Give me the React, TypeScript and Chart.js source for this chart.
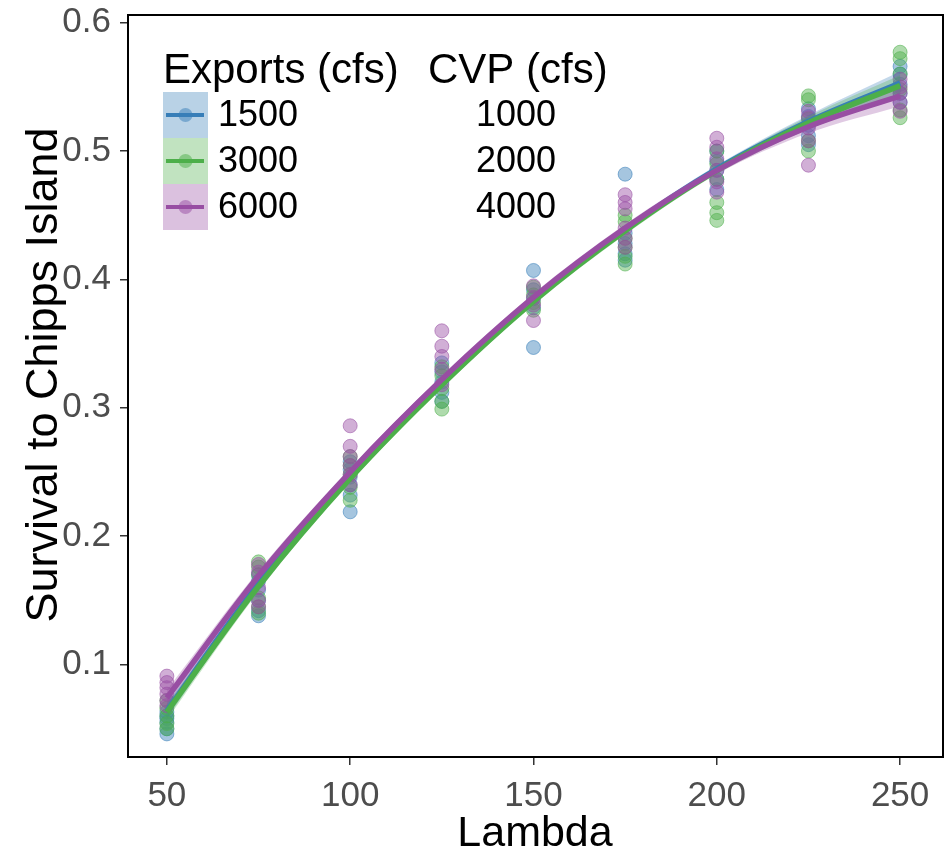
import React, { useEffect, useRef } from "react";
import { Chart, registerables } from "chart.js";

Chart.register(...registerables);

const LAMBDA = [50, 75, 100, 125, 150, 175, 200, 225, 250];
const EXPORTS = ["1500", "3000", "6000"];
const CVP = ["1000", "2000", "4000"];
const COLORS = ["#377EB8", "#4DAF4A", "#984EA3"];
const X_TICKS = [50, 100, 150, 200, 250];
const X_LABELS = ["50", "100", "150", "200", "250"];
const Y_TICKS = [0.1, 0.2, 0.3, 0.4, 0.5, 0.6];
const Y_LABELS = ["0.1", "0.2", "0.3", "0.4", "0.5", "0.6"];
const X_TITLE = "Lambda";
const Y_TITLE = "Survival to Chipps Island";

// fitted curves at each lambda
const blueFit = [0.064, 0.163, 0.246, 0.319, 0.384, 0.439, 0.486, 0.523, 0.553];
const greenFit = [0.063, 0.161, 0.245, 0.318, 0.383, 0.438, 0.485, 0.522, 0.551];
const purpleFit = [0.074, 0.169, 0.250, 0.322, 0.386, 0.440, 0.485, 0.519, 0.543];
// ribbon half widths
const blueSE = [0.006, 0.004, 0.003, 0.003, 0.003, 0.003, 0.003, 0.005, 0.009];
const greenSE = [0.006, 0.004, 0.003, 0.003, 0.003, 0.003, 0.003, 0.005, 0.008];
const purpleSE = [0.006, 0.004, 0.003, 0.003, 0.003, 0.003, 0.003, 0.005, 0.008];

// observed points per lambda
const bluePts = [
  [0.046, 0.050, 0.055, 0.058, 0.060, 0.063],
  [0.138, 0.142, 0.150, 0.158, 0.165, 0.170],
  [0.219, 0.232, 0.240, 0.246, 0.252, 0.258],
  [0.305, 0.312, 0.320, 0.328, 0.335],
  [0.347, 0.378, 0.385, 0.392, 0.407],
  [0.415, 0.420, 0.428, 0.436, 0.482],
  [0.470, 0.478, 0.485, 0.492, 0.500],
  [0.505, 0.512, 0.520, 0.527, 0.533],
  [0.538, 0.545, 0.552, 0.560, 0.566],
];
const greenPts = [
  [0.050, 0.054, 0.060, 0.066, 0.072],
  [0.140, 0.145, 0.152, 0.170, 0.176, 0.180],
  [0.228, 0.238, 0.248, 0.255, 0.262],
  [0.299, 0.305, 0.315, 0.325, 0.332],
  [0.376, 0.382, 0.388, 0.394],
  [0.412, 0.418, 0.425, 0.432, 0.445, 0.450],
  [0.446, 0.452, 0.460, 0.478, 0.490, 0.500],
  [0.500, 0.508, 0.525, 0.540, 0.543],
  [0.526, 0.532, 0.548, 0.560, 0.572, 0.577],
];
const purplePts = [
  [0.068, 0.072, 0.077, 0.082, 0.086, 0.091],
  [0.145, 0.150, 0.160, 0.172, 0.178],
  [0.240, 0.248, 0.255, 0.262, 0.270, 0.286],
  [0.318, 0.330, 0.340, 0.348, 0.360],
  [0.368, 0.380, 0.386, 0.395],
  [0.425, 0.432, 0.440, 0.455, 0.460, 0.466],
  [0.468, 0.476, 0.485, 0.494, 0.503, 0.510],
  [0.489, 0.508, 0.518, 0.526, 0.531],
  [0.531, 0.538, 0.545, 0.550, 0.556],
];

const FONT = "'Liberation Sans', Arial, Helvetica, sans-serif";

function rgba(hex: string, a: number) {
  const n = parseInt(hex.slice(1), 16);
  return `rgba(${(n >> 16) & 255},${(n >> 8) & 255},${n & 255},${a})`;
}

const legendPlugin = {
  id: "ggLegend",
  afterDraw(chart: any) {
    const ctx = chart.ctx;
    ctx.save();
    ctx.fillStyle = "#000";
    ctx.textBaseline = "alphabetic";
    ctx.textAlign = "left";
    ctx.font = `42px ${FONT}`;
    ctx.fillText("Exports (cfs)", 163, 83);
    ctx.fillText("CVP (cfs)", 428, 83);
    const keyX = 163, keyW = 45, keyTop = 92, keyH = 46;
    for (let i = 0; i < 3; i++) {
      const y0 = keyTop + i * keyH;
      const cy = y0 + keyH / 2;
      ctx.fillStyle = rgba(COLORS[i], 0.35);
      ctx.fillRect(keyX, y0, keyW, keyH);
      ctx.strokeStyle = COLORS[i];
      ctx.lineWidth = 4;
      ctx.beginPath();
      ctx.moveTo(keyX + 3, cy);
      ctx.lineTo(keyX + keyW - 4, cy);
      ctx.stroke();
      ctx.fillStyle = rgba(COLORS[i], 0.5);
      ctx.beginPath();
      ctx.arc(keyX + keyW / 2, cy, 7, 0, Math.PI * 2);
      ctx.fill();
      ctx.fillStyle = "#000";
      ctx.font = `36px ${FONT}`;
      ctx.textBaseline = "middle";
      ctx.fillText(EXPORTS[i], 218, cy + 1);
      ctx.fillText(CVP[i], 476, cy + 1);
      ctx.textBaseline = "alphabetic";
    }
    // axis titles
    ctx.font = `43px ${FONT}`;
    ctx.textAlign = "center";
    ctx.fillText(X_TITLE, 535, 846);
    ctx.translate(57, 375);
    ctx.rotate(-Math.PI / 2);
    ctx.font = `45px ${FONT}`;
    ctx.fillText(Y_TITLE, 0, 0);
    ctx.restore();
  },
};

const borderPlugin = {
  id: "panelBorder",
  afterDatasetsDraw(chart: any) {
    const { ctx, chartArea } = chart;
    ctx.save();
    ctx.strokeStyle = "#000";
    ctx.lineWidth = 2;
    ctx.strokeRect(chartArea.left, chartArea.top, chartArea.right - chartArea.left, chartArea.bottom - chartArea.top);
    ctx.restore();
  },
};

export default function App() {
  const ref = useRef<HTMLCanvasElement>(null);
  useEffect(() => {
    document.body.style.margin = "0";
    const groups = [
      { pts: bluePts, fit: blueFit, se: blueSE },
      { pts: greenPts, fit: greenFit, se: greenSE },
      { pts: purplePts, fit: purpleFit, se: purpleSE },
    ];
    const datasets: any[] = [];
    groups.forEach((g, i) => {
      datasets.push({
        type: "scatter",
        label: EXPORTS[i] + " pts",
        data: LAMBDA.flatMap((l, k) => g.pts[k].map((y) => ({ x: l, y }))),
        backgroundColor: rgba(COLORS[i], 0.45),
        borderColor: rgba(COLORS[i], 0.55),
        borderWidth: 1,
        pointRadius: 7,
        order: 40 - i,
      });
    });
    groups.forEach((g, i) => {
      datasets.push({
        type: "line",
        label: EXPORTS[i] + " upper",
        data: LAMBDA.map((l, k) => ({ x: l, y: g.fit[k] + g.se[k] })),
        borderWidth: 0,
        pointRadius: 0,
        backgroundColor: rgba(COLORS[i], 0.3),
        fill: "+1",
        cubicInterpolationMode: "monotone",
        order: 30 - i,
      });
      datasets.push({
        type: "line",
        label: EXPORTS[i] + " lower",
        data: LAMBDA.map((l, k) => ({ x: l, y: g.fit[k] - g.se[k] })),
        borderWidth: 0,
        pointRadius: 0,
        fill: false,
        cubicInterpolationMode: "monotone",
        order: 30 - i,
      });
    });
    groups.forEach((g, i) => {
      datasets.push({
        type: "line",
        label: EXPORTS[i],
        data: LAMBDA.map((l, k) => ({ x: l, y: g.fit[k] })),
        borderColor: COLORS[i],
        borderWidth: 5.5,
        pointRadius: 0,
        fill: false,
        cubicInterpolationMode: "monotone",
        order: 10 - i,
      });
    });

    const chart = new Chart(ref.current!, {
      type: "scatter",
      data: { datasets },
      plugins: [borderPlugin, legendPlugin],
      options: {
        animation: false,
        responsive: false,
        layout: { autoPadding: false, padding: { top: 15, right: 2, left: 0, bottom: 0 } },
        plugins: { legend: { display: false }, tooltip: { enabled: false } },
        scales: {
          x: {
            type: "linear",
            min: 39.4,
            max: 261.7,
            afterBuildTicks: (s: any) => {
              s.ticks = X_TICKS.map((v) => ({ value: v }));
            },
            afterFit: (s: any) => {
              s.height = 94;
              s.paddingLeft = 0;
              s.paddingRight = 0;
            },
            ticks: {
              color: "#4d4d4d",
              font: { size: 35, family: FONT },
              padding: 10,
              maxRotation: 0,
              autoSkip: false,
              callback: (_v: any, i: number) => X_LABELS[i],
            },
            grid: { drawOnChartArea: false, tickLength: 8, color: "#333", lineWidth: 1.5 },
            border: { display: false },
          },
          y: {
            type: "linear",
            min: 0.028,
            max: 0.606,
            afterBuildTicks: (s: any) => {
              s.ticks = Y_TICKS.map((v) => ({ value: v }));
            },
            afterFit: (s: any) => {
              s.width = 128;
              s.paddingTop = 0;
              s.paddingBottom = 0;
            },
            ticks: {
              color: "#4d4d4d",
              font: { size: 35, family: FONT },
              padding: 9,
              callback: (_v: any, i: number) => Y_LABELS[i],
            },
            grid: { drawOnChartArea: false, tickLength: 8, color: "#333", lineWidth: 1.5 },
            border: { display: false },
          },
        },
      } as any,
    });
    return () => chart.destroy();
  }, []);
  return (
    <div style={{ width: 945, height: 851 }}>
      <canvas ref={ref} width={945} height={851} style={{ display: "block" }} />
    </div>
  );
}
